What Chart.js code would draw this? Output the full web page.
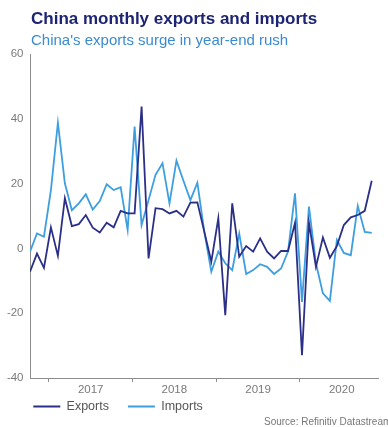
<!DOCTYPE html>
<html><head><meta charset="utf-8">
<script src="https://cdn.jsdelivr.net/npm/chart.js@4.4.1/dist/chart.umd.min.js"></script>
<style>
html,body{margin:0;padding:0;background:#fff;overflow:hidden;width:388px;height:427px;}
#wrap{position:relative;width:388px;height:427px;overflow:hidden;}
canvas{position:absolute;left:0;top:0;}
.t{position:absolute;left:31px;white-space:nowrap;font-family:"Liberation Sans",Arial,sans-serif;}
#title{top:9px;font-size:17px;line-height:20px;font-weight:bold;color:#1d2473;}
#sub{top:31px;font-size:15px;line-height:18px;color:#3b8bd0;}
#src{left:264px;top:416px;font-size:10px;line-height:12px;color:#777;}
</style></head><body>
<div id="wrap">
<canvas id="c" width="388" height="427"></canvas>
<div class="t" id="title">China monthly exports and imports</div>
<div class="t" id="sub">China's exports surge in year-end rush</div>
<div class="t" id="src">Source: Refinitiv Datastream</div>
</div>
<script>
const months = [
  '2016-10','2016-11','2016-12',
  '2017-01','2017-02','2017-03','2017-04','2017-05','2017-06','2017-07','2017-08','2017-09','2017-10','2017-11','2017-12',
  '2018-01','2018-02','2018-03','2018-04','2018-05','2018-06','2018-07','2018-08','2018-09','2018-10','2018-11','2018-12',
  '2019-01','2019-02','2019-03','2019-04','2019-05','2019-06','2019-07','2019-08','2019-09','2019-10','2019-11','2019-12',
  '2020-01','2020-02','2020-03','2020-04','2020-05','2020-06','2020-07','2020-08','2020-09','2020-10','2020-11'
];
const exportsYoY = [
  -7.2, -1.6, -6.0,
  6.5, -2.3, 15.5, 6.9, 7.5, 10.3, 6.4, 4.9, 7.9, 6.5, 11.6, 10.8,
  10.8, 43.8, -3.1, 12.4, 12.1, 10.8, 11.6, 9.8, 14.1, 14.2, 5.1, -4.1,
  9.3, -20.6, 13.9, -2.6, 0.7, -1.0, 3.1, -1.0, -3.1, -0.8, -0.8, 7.9,
  -33.0, 7.9, -5.7, 3.4, -2.9, 0.7, 7.2, 9.6, 10.3, 11.6, 20.9
];
const importsYoY = [
  -1.0, 4.6, 3.6,
  18.0, 38.8, 20.1, 11.8, 13.9, 16.7, 12.0, 14.6, 19.8, 18.0, 18.9, 5.7,
  37.6, 7.2, 14.9, 22.7, 26.3, 13.9, 27.1, 20.9, 14.9, 20.3, 5.0, -7.2,
  -1.0, -4.6, -6.7, 4.6, -7.9, -6.7, -4.9, -5.7, -7.9, -6.2, -1.0, 17.0,
  -16.5, 12.9, -4.6, -13.9, -16.2, 2.6, -1.4, -2.1, 13.1, 5.1, 4.8
];
const yearLabels = ['2017', '2018', '2019', '2020'];
const seriesNames = ['Exports', 'Imports'];

const FONT = '"Liberation Sans", Arial, sans-serif';
const AXIS = '#8c8c8c';
const boundaries = yearLabels.map(y => months.indexOf(y + '-01') - 0.3);
const xTickValues = [];
const xTickText = [];
boundaries.forEach((b, k) => {
  xTickValues.push(b); xTickText.push('');
  xTickValues.push(b + 6); xTickText.push(yearLabels[k]);
});

const toPoints = arr => arr.map((v, i) => ({x: i, y: v}));

// let axis labels extend outside their (deliberately compact) scale boxes
const labelRoom = {
  id: 'labelRoom',
  afterLayout(c) {
    c.scales.y.left = 0;
    c.scales.x.bottom = c.height;
  }
};

new Chart(document.getElementById('c'), {
  type: 'line',
  data: {
    datasets: [
      {label: seriesNames[0], data: toPoints(exportsYoY), borderColor: '#2c2f86', backgroundColor: '#2c2f86',
       borderWidth: 1.8, pointRadius: 0, tension: 0, fill: false},
      {label: seriesNames[1], data: toPoints(importsYoY), borderColor: '#3d9ee0', backgroundColor: '#3d9ee0',
       borderWidth: 1.8, pointRadius: 0, tension: 0, fill: false}
    ]
  },
  plugins: [labelRoom],
  options: {
    responsive: false,
    animation: false,
    devicePixelRatio: 1,
    layout: {padding: {left: 14.3, right: 10, top: 54, bottom: 4.25}},
    plugins: {
      tooltip: {enabled: false},
      title: {display: false},
      legend: {
        position: 'bottom',
        align: 'start',
        labels: {
          usePointStyle: true,
          pointStyle: 'line',
          pointStyleWidth: 27,
          padding: 19,
          color: '#555',
          font: {family: FONT, size: 12.5}
        }
      }
    },
    scales: {
      x: {
        type: 'linear',
        min: 0,
        max: 49.9,
        afterBuildTicks: s => { s.ticks = xTickValues.map(v => ({value: v})); },
        afterFit: s => { s.height = 3.25; },
        ticks: {
          autoSkip: false,
          maxRotation: 0,
          padding: 1,
          color: '#7a7a7a',
          font: {family: FONT, size: 11.5},
          callback: (v, i) => xTickText[i]
        },
        grid: {
          display: true,
          drawOnChartArea: false,
          drawTicks: true,
          tickLength: 4,
          tickWidth: 1,
          tickColor: ctx => (ctx.index % 2 === 0 ? AXIS : 'rgba(0,0,0,0)')
        },
        border: {display: true, color: AXIS, width: 1}
      },
      y: {
        min: -40,
        max: 60,
        afterFit: s => { s.width = 15.7; },
        ticks: {
          stepSize: 20,
          padding: 6.5,
          color: '#7a7a7a',
          font: {family: FONT, size: 11.5}
        },
        grid: {display: false, drawTicks: false},
        border: {display: true, color: AXIS, width: 1}
      }
    }
  }
});
</script>
</body></html>
